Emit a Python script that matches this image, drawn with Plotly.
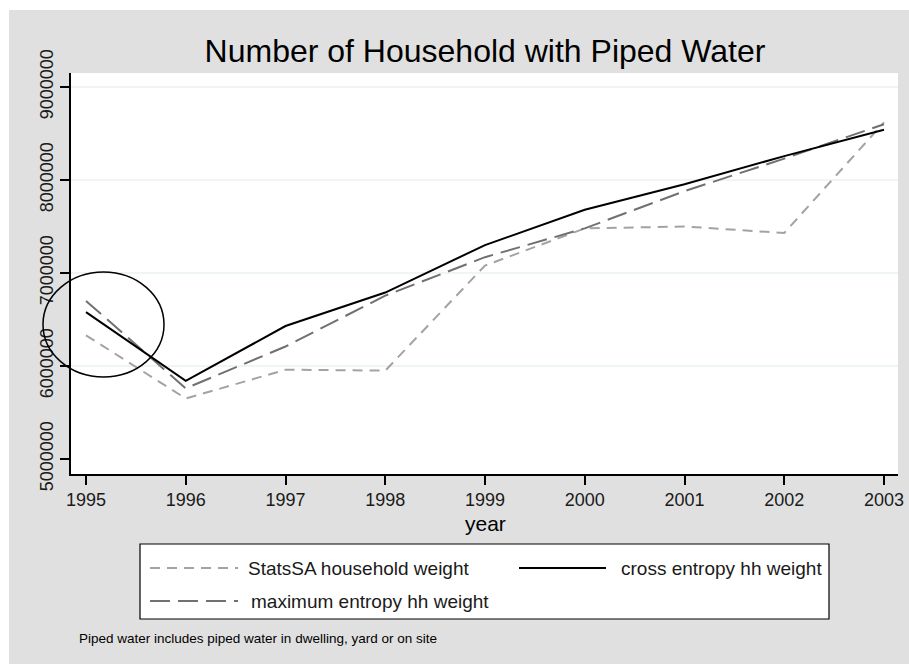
import plotly.graph_objects as go

# ---------------- data ----------------
years = [1995, 1996, 1997, 1998, 1999, 2000, 2001, 2002, 2003]
statssa_hh = [6330000, 5650000, 5960000, 5950000, 7080000, 7480000, 7500000, 7430000, 8620000]
cross_entropy_hh = [6580000, 5840000, 6430000, 6790000, 7300000, 7680000, 7955000, 8257000, 8540000]
max_entropy_hh = [6700000, 5760000, 6210000, 6756000, 7170000, 7480000, 7880000, 8230000, 8600000]
y_ticks = [5000000, 6000000, 7000000, 8000000, 9000000]
y_tick_labels = [str(v) for v in y_ticks]
grid_vals = y_ticks[1:]
series_names = ["StatsSA household weight", "cross entropy hh weight", "maximum entropy hh weight"]

# ---------------- layout geometry ----------------
W, H = 909, 664
L, R, T, B = 71, 11, 73, 190
PW, PH = W - L - R, H - T - B
FONT = "Liberation Sans, Arial, sans-serif"

def px(x):
    return (x - L) / PW

def py(y):
    return (H - B - y) / PH

C_STATS = "#a3a3a3"
C_MAX = "#707070"
C_CROSS = "#000000"
D_STATS = "10px,7px"
D_MAX = "20px,8px"

fig = go.Figure()
fig.add_trace(go.Scatter(x=years, y=statssa_hh, mode="lines", name=series_names[0],
                         line=dict(color=C_STATS, width=2, dash=D_STATS), showlegend=False))
fig.add_trace(go.Scatter(x=years, y=max_entropy_hh, mode="lines", name=series_names[2],
                         line=dict(color=C_MAX, width=2, dash=D_MAX), showlegend=False))
fig.add_trace(go.Scatter(x=years, y=cross_entropy_hh, mode="lines", name=series_names[1],
                         line=dict(color=C_CROSS, width=2), showlegend=False))

shapes = []
# white outer frame strips
shapes.append(dict(type="rect", xref="paper", yref="paper", x0=px(0), x1=px(9), y0=py(H), y1=py(0),
                   fillcolor="white", line=dict(width=0), layer="above"))
shapes.append(dict(type="rect", xref="paper", yref="paper", x0=px(0), x1=px(W), y0=py(10), y1=py(0),
                   fillcolor="white", line=dict(width=0), layer="above"))
# gridlines
for v in grid_vals:
    shapes.append(dict(type="line", xref="paper", yref="y", x0=0, x1=1, y0=v, y1=v,
                       line=dict(color="#eaf2f3", width=1.5), layer="below"))
# highlight circle
shapes.append(dict(type="circle", xref="paper", yref="paper", x0=px(43), x1=px(164), y0=py(377), y1=py(272),
                   line=dict(color="black", width=1.5), layer="above"))
# legend box
shapes.append(dict(type="rect", xref="paper", yref="paper", x0=px(140), x1=px(829), y0=py(619), y1=py(544),
                   fillcolor="white", line=dict(color="black", width=1.2), layer="above"))
legend_items = [
    (series_names[0], C_STATS, D_STATS, 150, 238, 246, 568),
    (series_names[1], C_CROSS, "solid", 519, 606, 619, 568),
    (series_names[2], C_MAX, D_MAX, 150, 238, 249, 601),
]
annotations = []
for name, col, dash, x0, x1, xt, yy in legend_items:
    shapes.append(dict(type="line", xref="paper", yref="paper", x0=px(x0), x1=px(x1), y0=py(yy), y1=py(yy),
                       line=dict(color=col, width=2, dash=dash), layer="above"))
    annotations.append(dict(text=name, xref="paper", yref="paper", x=px(xt), y=py(yy),
                            xanchor="left", yanchor="middle", showarrow=False,
                            font=dict(family=FONT, size=19, color="#1a1a1a")))

annotations.append(dict(text="year", xref="paper", yref="paper", x=px(485), y=py(523),
                        xanchor="center", yanchor="middle", showarrow=False,
                        font=dict(family=FONT, size=21, color="black")))
annotations.append(dict(text="Piped water includes piped water in dwelling, yard or on site",
                        xref="paper", yref="paper", x=px(77), y=py(638),
                        xanchor="left", yanchor="middle", showarrow=False,
                        font=dict(family=FONT, size=13.5, color="black")))

fig.update_layout(
    width=W, height=H,
    margin=dict(l=L, r=R, t=T, b=B, pad=0, autoexpand=False),
    paper_bgcolor="#e0e0e0",
    plot_bgcolor="white",
    title=dict(text="Number of Household with Piped Water", x=485 / W, xanchor="center",
               y=1 - 51 / H, yanchor="middle", yref="container",
               font=dict(family=FONT, size=32, color="black")),
    shapes=shapes,
    annotations=annotations,
    showlegend=False,
    xaxis=dict(range=[1995 + (L - 86) / 99.75, 1995 + (W - R - 86) / 99.75],
               tickmode="array", tickvals=years, ticktext=[str(y) for y in years],
               ticks="outside", ticklen=9, tickwidth=1.5, tickcolor="black",
               showline=True, linecolor="black", linewidth=1.5, mirror=False,
               showgrid=False, zeroline=False, automargin=False,
               tickfont=dict(family=FONT, size=18, color="#1a1a1a")),
    yaxis=dict(range=[5000000 - 15 / 93 * 1e6, 9000000 + 14 / 93 * 1e6],
               tickmode="array", tickvals=y_ticks, ticktext=y_tick_labels, tickangle=-90,
               ticks="outside", ticklen=9, tickwidth=1.5, tickcolor="black",
               showline=True, linecolor="black", linewidth=1.5,
               showgrid=False, zeroline=False, automargin=False,
               tickfont=dict(family=FONT, size=18, color="#1a1a1a")),
)

fig.write_html("out.html", config={"displayModeBar": False},
               post_script="document.body.style.margin='0';document.body.style.overflow='hidden';")
